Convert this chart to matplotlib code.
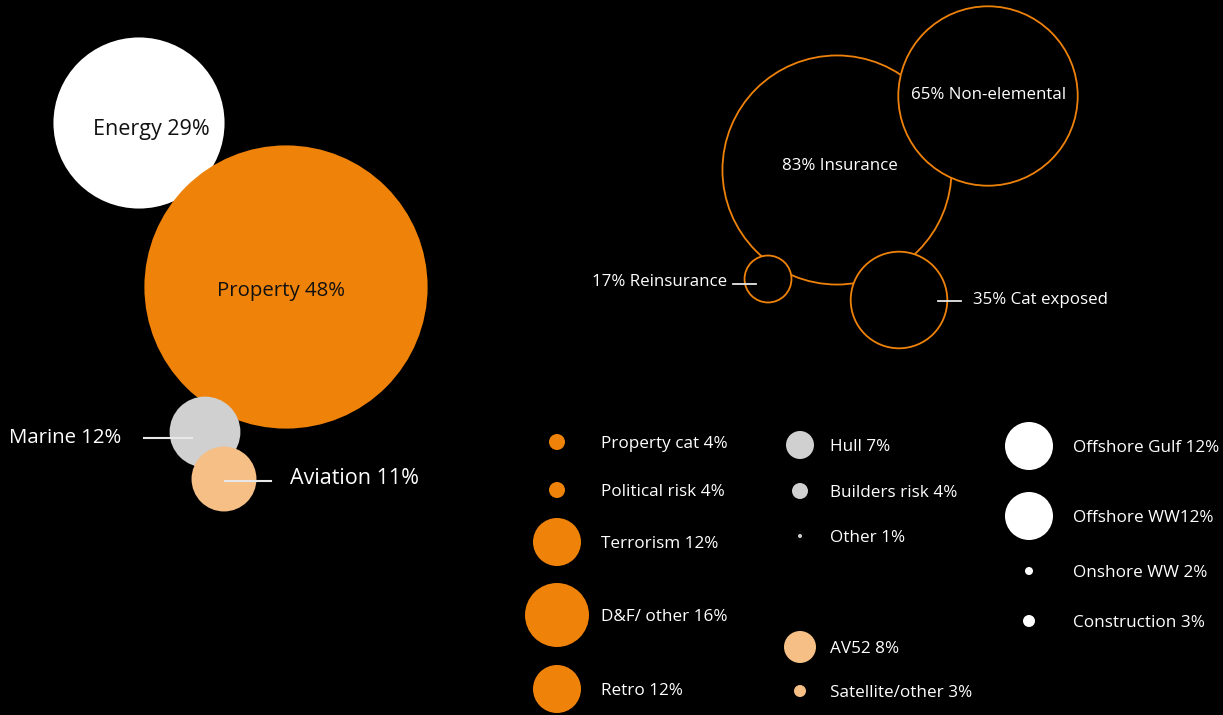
import matplotlib.pyplot as plt
from matplotlib.patches import Circle

# Premium split by class (%)
classes = ['Energy', 'Property', 'Marine', 'Aviation']
class_share = [29, 48, 12, 11]

# Insurance / reinsurance and cat split (%)
split_names = ['Insurance', 'Non-elemental', 'Reinsurance', 'Cat exposed']
split_share = [83, 65, 17, 35]

# Sub-lines per class (%)
property_lines = ['Property cat ', 'Political risk ', 'Terrorism ', 'D&F/ other ', 'Retro ']
property_share = [4, 4, 12, 16, 12]
marine_lines = ['Hull ', 'Builders risk ', 'Other ']
marine_share = [7, 4, 1]
aviation_lines = ['AV52 ', 'Satellite/other ']
aviation_share = [8, 3]
energy_lines = ['Offshore Gulf ', 'Offshore WW', 'Onshore WW ', 'Construction ']
energy_share = [12, 12, 2, 3]

ORANGE = '#EF8209'
GREY = '#D0D0D0'
PEACH = '#F5BF85'
WHITE = '#FFFFFF'
LINE = '#E8E8E8'

plt.rcParams['font.family'] = ['Open Sans', 'DejaVu Sans']

fig = plt.figure(figsize=(12.23, 7.15), dpi=100, facecolor='black')
ax = fig.add_axes([0, 0, 1, 1])
ax.set_xlim(0, 1223)
ax.set_ylim(715, 0)
ax.axis('off')
ax.set_facecolor('black')

# ---- class bubbles (radius grows with share) ----
class_pos = [(139, 123), (286, 287), (205, 432), (224, 479)]
class_col = [WHITE, ORANGE, GREY, PEACH]
for (cx, cy), v, c in zip(class_pos, class_share, class_col):
    ax.add_patch(Circle((cx, cy), 2.95 * v, facecolor=c, edgecolor='none'))

ax.text(151, 129, f'{classes[0]} {class_share[0]}%', color='#111111', fontsize=15.5,
        ha='center', va='center')
ax.text(281, 291, f'{classes[1]} {class_share[1]}%', color='#111111', fontsize=14.7,
        ha='center', va='center')

ax.plot([144, 192], [438, 438], color=LINE, lw=1.5)
ax.text(9, 438, f'{classes[2]} {class_share[2]}%', color=WHITE, fontsize=14.7,
        ha='left', va='center')
ax.plot([225, 271], [481, 481], color=LINE, lw=1.5)
ax.text(290, 479, f'{classes[3]} {class_share[3]}%', color=WHITE, fontsize=15.5,
        ha='left', va='center')

# ---- insurance / reinsurance outline bubbles ----
split_pos = [(837, 170), (988, 96), (768, 279), (899, 300)]
for (cx, cy), v in zip(split_pos, split_share):
    ax.add_patch(Circle((cx, cy), 1.38 * v, facecolor='black', edgecolor=ORANGE, lw=1.3))

ax.text(840, 166, f'{split_share[0]}% {split_names[0]}', color=WHITE, fontsize=12.2,
        ha='center', va='center')
ax.text(989, 95, f'{split_share[1]}% {split_names[1]}', color=WHITE, fontsize=12.2,
        ha='center', va='center')
ax.plot([733, 756], [284, 284], color=LINE, lw=1.3)
ax.text(727, 282, f'{split_share[2]}% {split_names[2]}', color=WHITE, fontsize=12.2,
        ha='right', va='center')
ax.plot([938, 961], [301, 301], color=LINE, lw=1.3)
ax.text(973, 300, f'{split_share[3]}% {split_names[3]}', color=WHITE, fontsize=12.2,
        ha='left', va='center')


# ---- sub-line key ----
def key_column(names, shares, x_dot, x_txt, ys, color):
    for n, v, y in zip(names, shares, ys):
        ax.add_patch(Circle((x_dot, y), 2.0 * v, facecolor=color, edgecolor='none'))
        ax.text(x_txt, y + 2, f'{n}{v}%', color=WHITE, fontsize=12.3, ha='left', va='center')


key_column(property_lines, property_share, 557, 601, [442, 490, 542, 615, 689], ORANGE)
key_column(marine_lines, marine_share, 800, 830, [445, 491, 536], GREY)
key_column(aviation_lines, aviation_share, 800, 830, [647, 691], PEACH)
key_column(energy_lines, energy_share, 1029, 1073, [446, 516, 571, 621], WHITE)

fig.savefig('out.png', dpi=100, facecolor='black')
